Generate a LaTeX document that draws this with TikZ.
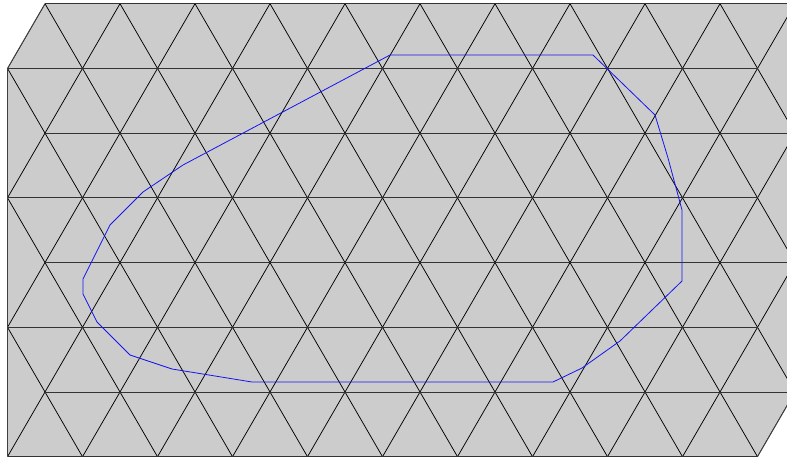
\documentclass[tikz,border=0pt]{standalone}
\usepackage{tikz}
\definecolor{meshgray}{RGB}{204,204,204}
\definecolor{edgeblue}{RGB}{20,20,240}
\tikzset{
  meshfill/.style={fill=meshgray},
  diagline/.style={draw=black, line width=0.75pt},
  horline/.style={draw=black!80, line width=0.95pt},
  rimline/.style={draw=black!75, line width=0.95pt},
  contour/.style={draw=edgeblue, line width=0.8pt, line join=round}
}
\begin{document}
\begin{tikzpicture}[x=1pt,y=-1pt]
\useasboundingbox (0,0) rectangle (787,460);
\clip (0,0) rectangle (787,460);
% domain corners
\coordinate (d1) at (45,3.7);
\coordinate (d2) at (795,3.7);
\coordinate (d3) at (795,392.0);
\coordinate (d4) at (757.5,456.7);
\coordinate (d5) at (7.5,456.7);
\coordinate (d6) at (7.5,68.4);
\fill[meshfill] (d1) -- (d2) -- (d3) -- (d4) -- (d5) -- (d6) -- cycle;
\begin{scope}
  \clip (d1) -- (d2) -- (d3) -- (d4) -- (d5) -- (d6) -- cycle;
  \foreach \k in {-6,...,16} {
    \draw[diagline] (45+75*\k,3.7) -- (45+75*\k-262.5,456.7);
    \draw[diagline] (45+75*\k,3.7) -- (45+75*\k+262.5,456.7);
  }
\end{scope}
\foreach \r in {0,...,7} {
  \pgfmathsetmacro\yr{3.7+64.714*\r}
  \pgfmathsetmacro\xs{mod(\r,2)==1 ? 7.5 : 45}
  \draw[horline] (\xs,\yr) -- (\xs+750,\yr);
}
\draw[rimline] (d1) -- (d6) -- (d5);
\draw[rimline] (d2) -- (d3) -- (d4);
% blue contour
\coordinate (b1) at (390,55);
\coordinate (b2) at (593,55);
\coordinate (b3) at (655,115);
\coordinate (b4) at (668,158);
\coordinate (b5) at (682,210);
\coordinate (b6) at (682,281);
\coordinate (b7) at (620,341);
\coordinate (b8) at (582,368);
\coordinate (b9) at (553,382);
\coordinate (b10) at (252,382);
\coordinate (b11) at (172,369);
\coordinate (b12) at (130,355);
\coordinate (b13) at (97,322);
\coordinate (b14) at (83,294);
\coordinate (b15) at (83,279);
\coordinate (b16) at (110,225);
\coordinate (b17) at (143,192);
\coordinate (b18) at (183,165);
\draw[contour] (b1) -- (b2) -- (b3) -- (b4) -- (b5) -- (b6) -- (b7) -- (b8) -- (b9)
  -- (b10) -- (b11) -- (b12) -- (b13) -- (b14) -- (b15) -- (b16) -- (b17) -- (b18) -- cycle;
\end{tikzpicture}
\end{document}
